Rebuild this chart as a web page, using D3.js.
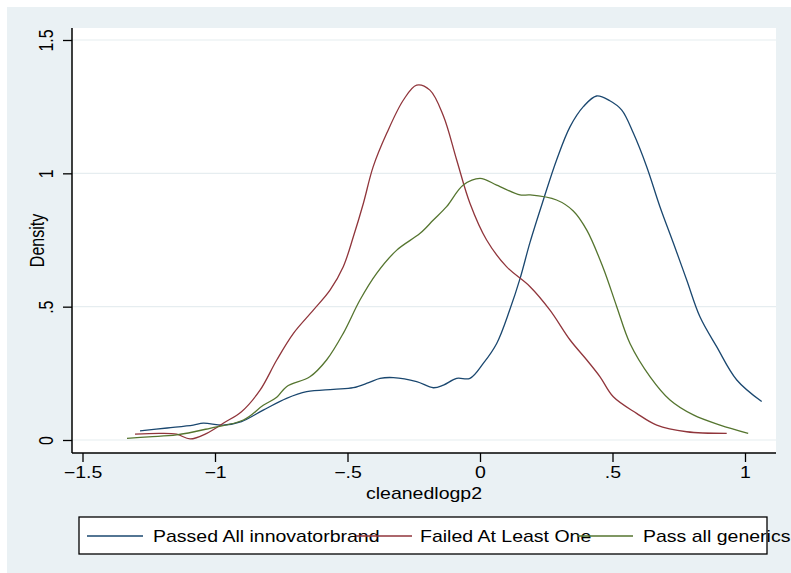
<!DOCTYPE html>
<html>
<head>
<meta charset="utf-8">
<script src="https://cdn.jsdelivr.net/npm/d3@7"></script>
<style>
  body { margin: 0; background: #fff; }
  text { font-family: "Liberation Sans", Arial, sans-serif; fill: #000; }
</style>
</head>
<body>
<svg id="chart" width="791" height="573"></svg>
<script>
// kernel density estimates: [cleanedlogp2, density]
var passedAll = [[-1.283,0.034],[-1.18,0.045],[-1.082,0.056],[-1.044,0.063],[-0.969,0.056],[-0.9,0.069],[-0.818,0.112],[-0.73,0.156],[-0.654,0.181],[-0.553,0.19],[-0.478,0.196],[-0.42,0.215],[-0.377,0.231],[-0.327,0.234],[-0.239,0.219],[-0.176,0.196],[-0.138,0.206],[-0.088,0.231],[-0.038,0.231],[0.013,0.288],[0.063,0.362],[0.113,0.49],[0.151,0.605],[0.189,0.742],[0.239,0.9],[0.289,1.05],[0.34,1.175],[0.39,1.25],[0.44,1.29],[0.49,1.272],[0.535,1.237],[0.579,1.15],[0.629,1.025],[0.679,0.875],[0.73,0.738],[0.78,0.6],[0.83,0.462],[0.893,0.35],[0.969,0.225],[1.063,0.144]];
var failedOne = [[-1.302,0.022],[-1.208,0.025],[-1.145,0.022],[-1.094,0.004],[-1.031,0.025],[-0.969,0.063],[-0.9,0.106],[-0.83,0.187],[-0.767,0.3],[-0.704,0.4],[-0.629,0.487],[-0.566,0.562],[-0.516,0.65],[-0.478,0.762],[-0.44,0.888],[-0.403,1.025],[-0.352,1.15],[-0.289,1.275],[-0.239,1.331],[-0.189,1.312],[-0.138,1.215],[-0.088,1.05],[-0.038,0.888],[0.025,0.75],[0.1,0.65],[0.189,0.575],[0.264,0.487],[0.34,0.375],[0.403,0.3],[0.453,0.237],[0.503,0.162],[0.591,0.1],[0.667,0.056],[0.78,0.031],[0.931,0.025]];
var passGenerics = [[-1.332,0.006],[-1.25,0.012],[-1.145,0.019],[-1.019,0.044],[-0.893,0.075],[-0.818,0.13],[-0.767,0.16],[-0.73,0.2],[-0.642,0.237],[-0.579,0.3],[-0.516,0.4],[-0.453,0.525],[-0.39,0.625],[-0.314,0.712],[-0.226,0.775],[-0.176,0.825],[-0.126,0.875],[-0.063,0.956],[0,0.981],[0.063,0.956],[0.151,0.919],[0.189,0.919],[0.289,0.9],[0.352,0.859],[0.403,0.787],[0.465,0.645],[0.516,0.5],[0.566,0.362],[0.642,0.237],[0.717,0.15],[0.805,0.094],[0.906,0.056],[1.012,0.025]];

var seriesNames = ["Passed All innovatorbrand", "Failed At Least One", "Pass all generics"];
var seriesColors = ["#1a476f", "#90353b", "#55752f"];
var xTicks = [-1.5, -1, -0.5, 0, 0.5, 1];
var xTickLabels = ["\u22121.5", "\u22121", "\u2212.5", "0", ".5", "1"];
var yTicks = [0, 0.5, 1, 1.5];
var yTickLabels = ["0", ".5", "1", "1.5"];

var svg = d3.select("#chart"),
    stretch = 1.22,   // the picture's text is a bit wider than tall
    plot = {left: 72, right: 776, top: 28, bottom: 453};

var x = d3.scaleLinear().domain([-1.5, 1]).range([82.5, 745]);
var y = d3.scaleLinear().domain([0, 1.5]).range([440, 40]);

// backgrounds
svg.append("rect").attr("x", 7).attr("y", 7).attr("width", 784).attr("height", 566).attr("fill", "#eaf1f4");
svg.append("rect").attr("x", plot.left).attr("y", plot.top)
    .attr("width", plot.right - plot.left).attr("height", plot.bottom - plot.top).attr("fill", "#fff");

// grid
svg.append("g").selectAll("line").data(yTicks).join("line")
    .attr("x1", plot.left).attr("x2", plot.right)
    .attr("y1", function(d) { return y(d); }).attr("y2", function(d) { return y(d); })
    .attr("stroke", "#e6edf0").attr("stroke-width", 1.2);

// x axis
var xAxis = svg.append("g").attr("transform", "translate(0," + plot.bottom + ")")
    .call(d3.axisBottom(x).tickValues(xTicks).tickSize(9).tickSizeOuter(0)
        .tickFormat(function(d, i) { return xTickLabels[i]; }));
xAxis.select(".domain").remove();
xAxis.selectAll(".tick line").attr("stroke", "#000").attr("stroke-width", 1.3);
xAxis.selectAll(".tick text")
    .attr("y", 0).attr("dy", 0)
    .attr("transform", "translate(0,25) scale(" + stretch + ",1)")
    .style("font-size", "16px").style("font-family", "Liberation Sans, Arial, sans-serif");

// y axis
var yAxis = svg.append("g").attr("transform", "translate(" + plot.left + ",0)")
    .call(d3.axisLeft(y).tickValues(yTicks).tickSize(9).tickSizeOuter(0)
        .tickFormat(function(d, i) { return yTickLabels[i]; }));
yAxis.select(".domain").remove();
yAxis.selectAll(".tick line").attr("stroke", "#000").attr("stroke-width", 1.3);
yAxis.selectAll(".tick text")
    .attr("x", 0).attr("dy", 0)
    .attr("text-anchor", "middle")
    .attr("transform", "translate(-19,0) scale(" + stretch + ",1) rotate(-90)")
    .style("font-size", "16px").style("font-family", "Liberation Sans, Arial, sans-serif");

svg.append("line").attr("x1", plot.left).attr("x2", plot.right)
    .attr("y1", plot.bottom).attr("y2", plot.bottom).attr("stroke", "#000").attr("stroke-width", 1.5);
svg.append("line").attr("x1", plot.left).attr("x2", plot.left)
    .attr("y1", plot.top).attr("y2", plot.bottom).attr("stroke", "#000").attr("stroke-width", 1.5);

// axis titles
svg.append("text").attr("text-anchor", "middle").style("font-size", "16px")
    .attr("transform", "translate(" + (plot.left + plot.right) / 2 + ",499) scale(" + stretch + ",1)")
    .text("cleanedlogp2");
svg.append("text").attr("text-anchor", "middle").style("font-size", "16px")
    .attr("transform", "translate(44," + (plot.top + plot.bottom) / 2 + ") scale(" + stretch + ",1) rotate(-90)")
    .text("Density");

// density curves
var line = d3.line()
    .x(function(d) { return x(d[0]); })
    .y(function(d) { return y(d[1]); })
    .curve(d3.curveCatmullRom.alpha(0.5));

svg.append("g").selectAll("path").data([passedAll, failedOne, passGenerics]).join("path")
    .attr("d", line)
    .attr("fill", "none")
    .attr("stroke", function(d, i) { return seriesColors[i]; })
    .attr("stroke-width", 1.3);

// legend (Stata squeezed the keys, so text runs into the next key)
var legendKeys = [87, 356, 577],
    legendText = [153, 420, 643];
svg.append("rect").attr("x", 79).attr("y", 517).attr("width", 688).attr("height", 37)
    .attr("fill", "#fff").attr("stroke", "#000").attr("stroke-width", 1.3);
var legend = svg.append("g");
legend.selectAll("text").data(seriesNames).join("text")
    .style("font-size", "16px")
    .attr("transform", function(d, i) { return "translate(" + legendText[i] + ",542) scale(" + stretch + ",1)"; })
    .text(function(d) { return d; });
legend.selectAll("line").data(seriesNames).join("line")
    .attr("x1", function(d, i) { return legendKeys[i]; })
    .attr("x2", function(d, i) { return legendKeys[i] + 56; })
    .attr("y1", 536).attr("y2", 536)
    .attr("stroke", function(d, i) { return seriesColors[i]; })
    .attr("stroke-width", 1.3);
</script>
</body>
</html>
